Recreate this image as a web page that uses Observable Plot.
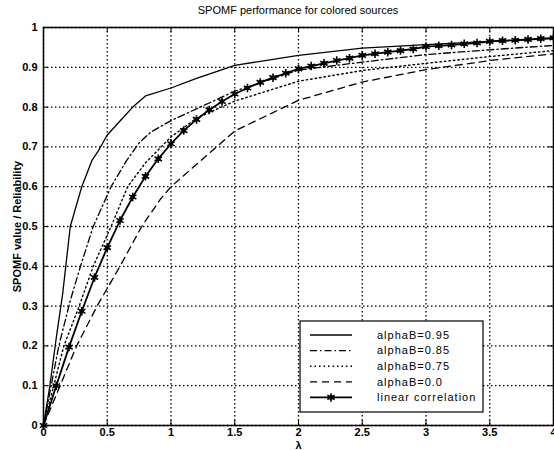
<!DOCTYPE html>
<html><head><meta charset="utf-8">
<script src="https://cdn.jsdelivr.net/npm/d3@7"></script>
<script src="https://cdn.jsdelivr.net/npm/@observablehq/plot@0.6"></script>
<style>
body{margin:0;background:#fff;}
#wrap{position:relative;width:554px;height:450px;font-family:"Liberation Sans",Arial,sans-serif;}
#title{position:absolute;top:4px;left:43px;width:510px;text-align:center;font-size:11px;color:#000;}
#chart{position:absolute;top:0;left:0;}
</style></head><body>
<div id="wrap"><div id="chart"></div><div id="title"></div></div>
<script>
const titleText = "SPOMF performance for colored sources";
const xLabel = "λ";
const yLabel = "SPOMF value / Reliability";
const xTicks = [0, 0.5, 1, 1.5, 2, 2.5, 3, 3.5, 4];
const yTicks = [0, 0.1, 0.2, 0.3, 0.4, 0.5, 0.6, 0.7, 0.8, 0.9, 1];
const seriesNames = ["alphaB=0.95", "alphaB=0.85", "alphaB=0.75", "alphaB=0.0", "linear correlation"];

const a95X = [0, 0.05, 0.1, 0.15, 0.21, 0.3, 0.38, 0.43, 0.5, 0.6, 0.7, 0.8, 1.0, 1.2, 1.5, 2.0, 2.5, 3.0, 3.5, 4.0];
const a95Y = [0, 0.1, 0.22, 0.33, 0.5, 0.6, 0.666, 0.69, 0.73, 0.765, 0.8, 0.828, 0.848, 0.872, 0.905, 0.93, 0.948, 0.957, 0.965, 0.972];

const a85X = [0, 0.06, 0.12, 0.21, 0.29, 0.39, 0.53, 0.65, 0.75, 0.84, 1.0, 1.5, 2.0, 2.5, 3.0, 3.5, 4.0];
const a85Y = [0, 0.1, 0.2, 0.314, 0.4, 0.5, 0.6, 0.665, 0.71, 0.737, 0.766, 0.84, 0.893, 0.913, 0.932, 0.944, 0.955];

const a75X = [0, 0.08, 0.16, 0.28, 0.39, 0.53, 0.66, 0.8, 1.0, 1.2, 1.5, 2.0, 2.5, 3.0, 3.5, 4.0];
const a75Y = [0, 0.1, 0.2, 0.3, 0.4, 0.5, 0.6, 0.66, 0.725, 0.772, 0.815, 0.865, 0.892, 0.91, 0.927, 0.942];

const a00X = [0, 0.13, 0.26, 0.42, 0.6, 0.77, 0.92, 1.0, 1.5, 2.0, 2.5, 3.0, 3.5, 4.0];
const a00Y = [0, 0.1, 0.2, 0.3, 0.4, 0.5, 0.57, 0.6, 0.74, 0.817, 0.863, 0.894, 0.917, 0.934];

const linX = [0, 0.1, 0.2, 0.3, 0.4, 0.5, 0.6, 0.7, 0.8, 0.9, 1.0, 1.1, 1.2, 1.3, 1.4, 1.5, 1.6, 1.7, 1.8, 1.9, 2.0,
              2.1, 2.2, 2.3, 2.4, 2.5, 2.6, 2.7, 2.8, 2.9, 3.0, 3.1, 3.2, 3.3, 3.4, 3.5, 3.6, 3.7, 3.8, 3.9, 4.0];
const linY = [0, 0.1, 0.197, 0.287, 0.372, 0.447, 0.515, 0.574, 0.626, 0.67, 0.708, 0.741, 0.769, 0.793, 0.814, 0.833, 0.848, 0.862, 0.874, 0.885, 0.896,
              0.903, 0.91, 0.917, 0.923, 0.93, 0.934, 0.938, 0.942, 0.946, 0.952, 0.954, 0.956, 0.959, 0.961, 0.965, 0.967, 0.968, 0.97, 0.972, 0.974];

const toRows = (xs, ys) => xs.map((x, i) => ({x, y: ys[i]}));
const styles = [
  {dash: null, width: 1.3},
  {dash: "7,3,1.5,3", width: 1.3},
  {dash: "1.5,3", width: 1.4},
  {dash: "7,5", width: 1.3},
  {dash: null, width: 1.8}
];
const series = [toRows(a95X, a95Y), toRows(a85X, a85Y), toRows(a75X, a75Y), toRows(a00X, a00Y), toRows(linX, linY)];

document.getElementById("title").textContent = titleText;

const W = 554, H = 450, mL = 43, mR = 1, mT = 27, mB = 25;
const fw = W - mL - mR, fh = H - mT - mB;
const gridStyle = {stroke: "#000", strokeOpacity: 1, strokeWidth: 1.3, strokeDasharray: "1.5,2.5"};
const fmt = d => String(d);

const chart = Plot.plot({
  width: W, height: H,
  marginLeft: mL, marginRight: mR, marginTop: mT, marginBottom: mB,
  x: {domain: [0, 4]},
  y: {domain: [0, 1]},
  style: {fontFamily: "'Liberation Sans', Arial, sans-serif", fontSize: "11px", color: "black", background: "white"},
  marks: [
    Plot.gridX(xTicks, gridStyle),
    Plot.gridY(yTicks, gridStyle),
    Plot.ruleX(xTicks, {x: d => d, insetTop: fh - 5, stroke: "black"}),
    Plot.ruleX(xTicks, {x: d => d, insetBottom: fh - 5, stroke: "black"}),
    Plot.ruleY(yTicks, {y: d => d, insetRight: fw - 5, stroke: "black"}),
    Plot.ruleY(yTicks, {y: d => d, insetLeft: fw - 5, stroke: "black"}),
    Plot.axisX(xTicks, {tickSize: 0, tickPadding: 3, tickFormat: fmt, fontWeight: "bold", label: xLabel, labelAnchor: "center", labelArrow: "none", labelOffset: 23}),
    Plot.axisY(yTicks, {tickSize: 0, tickPadding: 6, tickFormat: fmt, fontWeight: "bold", label: yLabel, labelAnchor: "center", labelArrow: "none", labelOffset: 30}),
    ...series.map((rows, i) => Plot.line(rows, {x: "x", y: "y", stroke: "black", strokeWidth: styles[i].width, strokeDasharray: styles[i].dash})),
    Plot.dot(series[4], {x: "x", y: "y", r: 2.3, fill: "black"}),
    Plot.dot(series[4], {x: "x", y: "y", r: 4, symbol: "asterisk", stroke: "black", strokeWidth: 1.6}),
    Plot.frame({stroke: "black", strokeWidth: 1.5})
  ]
});
document.getElementById("chart").appendChild(chart);

// legend box inside the plot area
const svg = d3.select(chart);
const lg = svg.append("g").attr("transform", "translate(300,321)");
lg.append("rect").attr("width", 183).attr("height", 91).attr("fill", "white").attr("stroke", "black").attr("stroke-width", 1.2);
seriesNames.forEach((name, i) => {
  const yy = 14 + i * 15.6;
  lg.append("line").attr("x1", 10).attr("x2", 52).attr("y1", yy).attr("y2", yy)
    .attr("stroke", "black").attr("stroke-width", styles[i].width)
    .attr("stroke-dasharray", styles[i].dash);
  if (i === 4) {
    lg.append("circle").attr("cx", 31).attr("cy", yy).attr("r", 2.3).attr("fill", "black");
    lg.append("path").attr("transform", `translate(31,${yy})`).attr("d", d3.symbol(d3.symbolAsterisk, 50)())
      .attr("stroke", "black").attr("stroke-width", 1.6).attr("fill", "none");
  }
  lg.append("text").attr("x", 77).attr("y", yy).attr("dy", "0.35em").attr("text-anchor", "start")
    .attr("font-size", 11).attr("letter-spacing", "1px").attr("fill", "black").text(name);
});
</script>
</body></html>
